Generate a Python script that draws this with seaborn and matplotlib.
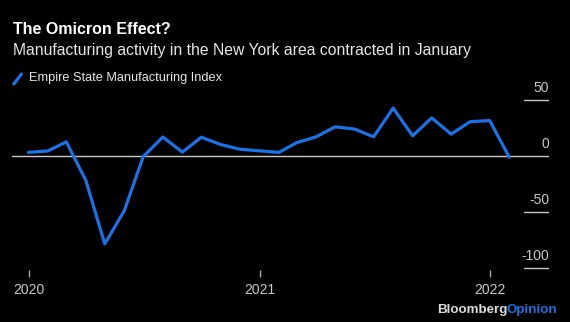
import matplotlib
matplotlib.use("Agg")
import matplotlib.pyplot as plt
import matplotlib.dates as mdates
import matplotlib.transforms as mtransforms
from matplotlib.lines import Line2D
import seaborn as sns
import pandas as pd

# ---- data ----
months = ["2019-12", "2020-01", "2020-02", "2020-03", "2020-04", "2020-05",
          "2020-06", "2020-07", "2020-08", "2020-09", "2020-10", "2020-11",
          "2020-12", "2021-01", "2021-02", "2021-03", "2021-04", "2021-05",
          "2021-06", "2021-07", "2021-08", "2021-09", "2021-10", "2021-11",
          "2021-12", "2022-01"]
index_values = [3.5, 4.8, 12.9, -21.5, -78.2, -48.5,
                -0.2, 17.2, 3.7, 17.0, 10.5, 6.3,
                4.9, 3.5, 12.1, 17.4, 26.3, 24.3,
                17.4, 43.0, 18.3, 34.3, 19.8, 30.9,
                31.9, -0.7]
y_ticks = [50, 0, -50, -100]
x_tick_years = ["2020", "2021", "2022"]
series_name = "Empire State Manufacturing Index"
title = "The Omicron Effect?"
subtitle = "Manufacturing activity in the New York area contracted in January"

df = pd.DataFrame({
    "date": pd.to_datetime(months) + pd.offsets.MonthEnd(0),
    "value": index_values,
})

# ---- style ----
sns.set_style("dark")
plt.rcParams["font.family"] = ["Liberation Sans", "DejaVu Sans"]
BG = "#000000"
BLUE = "#1b72e6"
GREY = "#c8c8c8"

W, H = 570, 322
fig = plt.figure(figsize=(W / 100, H / 100), dpi=100, facecolor=BG)

def px(x0, y0, x1, y1):
    return [x0 / W, 1 - y1 / H, (x1 - x0) / W, (y1 - y0) / H]

ax = fig.add_axes(px(12, 94.7, 549, 270))
ax.set_facecolor(BG)

sns.lineplot(data=df, x="date", y="value", ax=ax, color=BLUE, linewidth=2.3,
             legend=False)

ax.set_xlim(pd.Timestamp("2019-12-05"), pd.Timestamp("2022-04-04"))
ax.set_ylim(-101.5, 55)

for s in ax.spines.values():
    s.set_visible(False)
ax.grid(False)

# y gridlines & labels (right side)
ax.set_yticks([])
lab_tr = mtransforms.blended_transform_factory(ax.transAxes, ax.transData) + \
    mtransforms.ScaledTranslation(0, 12.5 / 100, fig.dpi_scale_trans)
for v in y_ticks:
    if v == 0:
        ax.axhline(v, color=GREY, linewidth=1.0, zorder=1)
    else:
        ax.axhline(v, xmin=0.953, xmax=1.0, color=GREY, linewidth=1.0, zorder=1)
    ax.text(1.0, v, f"{v}", transform=lab_tr, ha="right", va="center",
            color=GREY, fontsize=10)

# x ticks
ax.set_xticks([pd.Timestamp(f"{y}-01-01") for y in x_tick_years])
ax.set_xticklabels(x_tick_years)
ax.tick_params(axis="x", direction="out", length=5, width=1, color="#aaaaaa",
               labelcolor=GREY, labelsize=10, pad=4, bottom=True)
ax.set_xlabel("")
ax.set_ylabel("")

# titles
fig.text(13 / W, 1 - 29 / H, title, color="white", fontsize=11.5,
         fontweight="bold", va="center", ha="left")
fig.text(13 / W, 1 - 51 / H, subtitle, color="#e6e6e6", fontsize=11.3,
         va="center", ha="left")

# legend
fig.add_artist(Line2D([13.8 / W, 21.5 / W], [1 - 84 / H, 1 - 74 / H],
                      color=BLUE, linewidth=2.3, transform=fig.transFigure))
fig.text(29 / W, 1 - 78 / H, series_name, color="#e6e6e6", fontsize=9.2,
         va="center", ha="left")

# logo
fig.canvas.draw()
r = fig.canvas.get_renderer()
t2 = fig.text(557 / W, 1 - 310 / H, "Opinion", color=BLUE, fontsize=9.6,
              fontweight="bold", va="center", ha="right")
bb = t2.get_window_extent(renderer=r)
fig.text((bb.x0 + 1.5) / W, 1 - 310 / H, "Bloomberg", color="#dcdcdc",
         fontsize=9.6, fontweight="bold", va="center", ha="right")

fig.savefig("out.png", dpi=100, facecolor=BG)
